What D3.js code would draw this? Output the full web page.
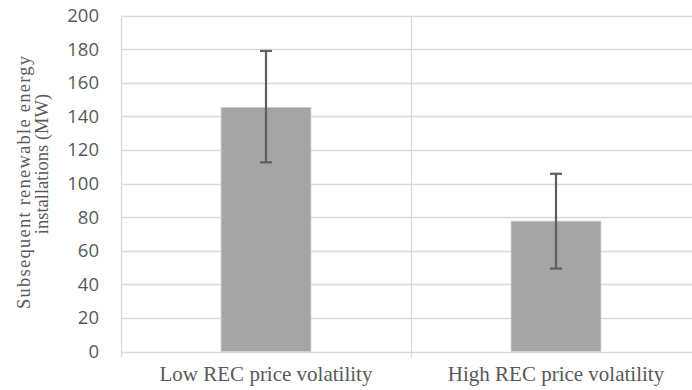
<!DOCTYPE html>
<html>
<head>
<meta charset="utf-8">
<script src="https://cdn.jsdelivr.net/npm/d3@7"></script>
<style>
  body { margin: 0; background: #fff; overflow: hidden; }
  svg { display: block; }
</style>
</head>
<body>
<div id="chart"></div>
<script>
// data
var categories = ["Low REC price volatility", "High REC price volatility"];
var means = [145.3, 77.6];
var errUpper = [178.9, 105.8];
var errLower = [112.6, 49.4];
var yTicks = [0, 20, 40, 60, 80, 100, 120, 140, 160, 180, 200];
var yTitleLines = ["Subsequent renewable energy", "installations (MW)"];

var width = 692, height = 390;
var margin = { top: 15.5, right: -9, bottom: 38.5, left: 121 };

var svg = d3.select("#chart").append("svg")
  .attr("width", width)
  .attr("height", height);

var x = d3.scaleBand()
  .domain(categories)
  .range([margin.left, width - margin.right])
  .paddingInner(0.69)
  .paddingOuter(0.345);

var y = d3.scaleLinear()
  .domain([0, 200])
  .range([height - margin.bottom, margin.top]);

var gridColor = "#d9d9d9";
var textColor = "#595959";

// horizontal gridlines
svg.append("g")
  .selectAll("line")
  .data(yTicks)
  .join("line")
  .attr("x1", margin.left)
  .attr("x2", width)
  .attr("y1", d => Math.round(y(d)) + 0.5)
  .attr("y2", d => Math.round(y(d)) + 0.5)
  .attr("stroke", gridColor)
  .attr("stroke-width", 1.3);

// category boundaries (vertical lines + ticks below axis)
var step = x.step();
var bounds = [margin.left, margin.left + step, margin.left + 2 * step];
svg.append("g")
  .selectAll("line")
  .data(bounds)
  .join("line")
  .attr("x1", d => Math.round(d) + 0.5)
  .attr("x2", d => Math.round(d) + 0.5)
  .attr("y1", margin.top)
  .attr("y2", y(0) + 6)
  .attr("stroke", gridColor)
  .attr("stroke-width", 1.3);

// y tick labels
svg.append("g")
  .selectAll("text")
  .data(yTicks)
  .join("text")
  .attr("x", 99)
  .attr("y", d => y(d))
  .attr("dy", "0.35em")
  .attr("text-anchor", "end")
  .attr("fill", textColor)
  .style("font-family", "'Open Sans', 'Noto Sans', sans-serif")
  .style("font-size", "18.5px")
  .text(d => d);

// bars
svg.append("g")
  .selectAll("rect")
  .data(categories)
  .join("rect")
  .attr("x", d => x(d))
  .attr("y", (d, i) => y(means[i]))
  .attr("width", x.bandwidth())
  .attr("height", (d, i) => y(0) - y(means[i]))
  .attr("fill", "#a5a5a5")
  .attr("stroke", "#d0d0d0")
  .attr("stroke-width", 0.8);

// error bars
var err = svg.append("g")
  .attr("stroke", "#5f5f5f")
  .attr("stroke-width", 2.2);
categories.forEach(function (c, i) {
  var cx = x(c) + x.bandwidth() / 2;
  err.append("line")
    .attr("x1", cx).attr("x2", cx)
    .attr("y1", y(errUpper[i])).attr("y2", y(errLower[i]));
  [errUpper[i], errLower[i]].forEach(function (v) {
    err.append("line")
      .attr("x1", cx - 6).attr("x2", cx + 6)
      .attr("y1", y(v)).attr("y2", y(v));
  });
});

// x labels
svg.append("g")
  .selectAll("text")
  .data(categories)
  .join("text")
  .attr("x", d => x(d) + x.bandwidth() / 2)
  .attr("y", 381)
  .attr("text-anchor", "middle")
  .attr("fill", textColor)
  .style("font-family", "'Liberation Serif', 'Times New Roman', serif")
  .style("font-size", "21px")
  .text(d => d);

// y title, first line justified like the original
var title = svg.append("g")
  .attr("fill", textColor)
  .style("font-family", "'Liberation Serif', 'Times New Roman', serif")
  .style("font-size", "18.5px");
title.append("text")
  .attr("transform", "translate(29.5,182.5) rotate(-90)")
  .attr("text-anchor", "middle")
  .attr("textLength", 253)
  .attr("lengthAdjust", "spacing")
  .text(yTitleLines[0]);
title.append("text")
  .attr("transform", "translate(48,164) rotate(-90)")
  .attr("text-anchor", "middle")
  .text(yTitleLines[1]);
</script>
</body>
</html>
